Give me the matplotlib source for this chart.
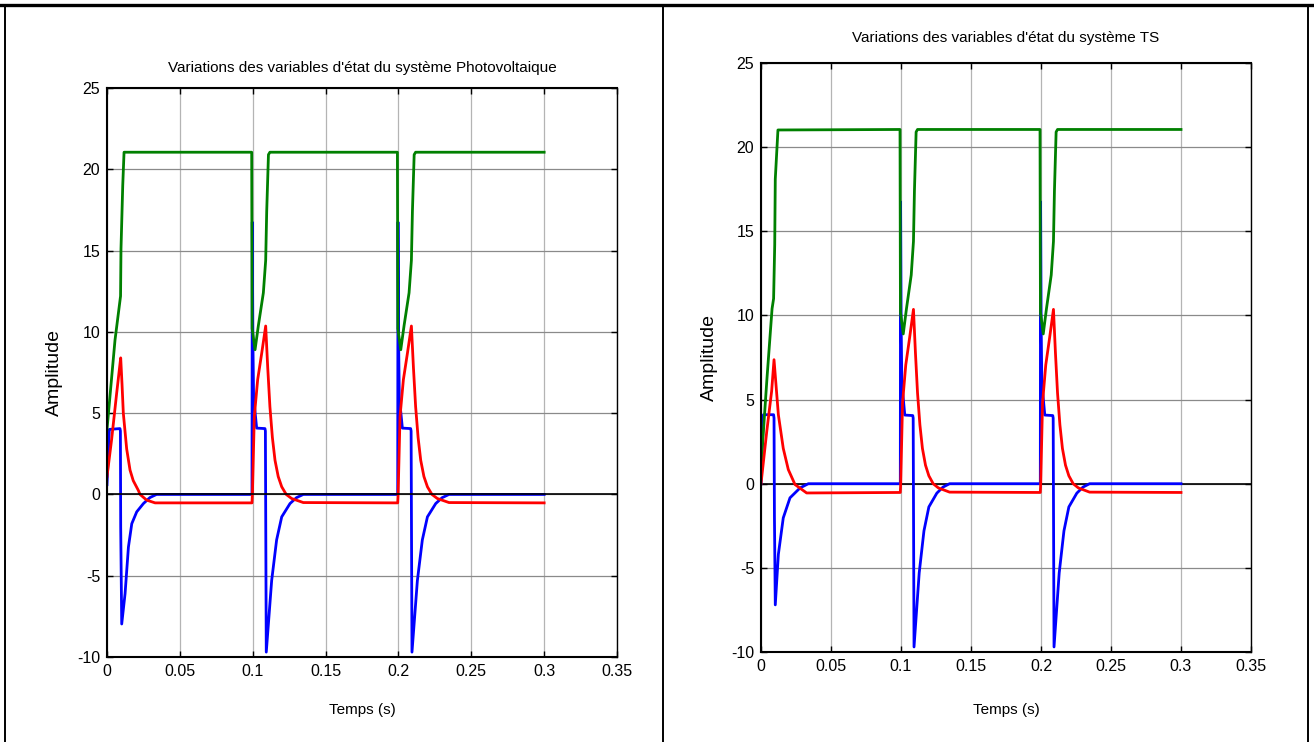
import matplotlib
matplotlib.use('Agg')
import matplotlib.pyplot as plt
from matplotlib.lines import Line2D
from matplotlib.ticker import FuncFormatter

plt.rcParams['font.family'] = ['Liberation Sans', 'DejaVu Sans']

# Left panel : systeme photovoltaique
green_t = [0, 0.0055, 0.0093, 0.0096, 0.0108, 0.0117,
           0.0993, 0.0996, 0.1016, 0.1039, 0.1073, 0.1089, 0.1096, 0.1108, 0.1118,
           0.1993, 0.1996, 0.2016, 0.2039, 0.2073, 0.2089, 0.2096, 0.2108, 0.2118, 0.3]
green_v = [4.0, 9.5, 12.2, 15.1, 19.0, 21.05,
           21.05, 10.2, 8.9, 10.4, 12.4, 14.4, 17.4, 20.9, 21.05,
           21.05, 10.2, 8.9, 10.4, 12.4, 14.4, 17.4, 20.9, 21.05, 21.05]

blue_t = [0, 0.0016, 0.0089, 0.0092, 0.0094, 0.0101, 0.0124, 0.0147, 0.017, 0.0204,
          0.025, 0.0295, 0.034,
          0.0995, 0.0997, 0.1001, 0.1006, 0.1027, 0.1084, 0.1087, 0.1090, 0.1093,
          0.113, 0.1164, 0.1199, 0.1256, 0.130, 0.1347,
          0.1995, 0.1997, 0.2001, 0.2006, 0.2027, 0.2084, 0.2087, 0.2090, 0.2093,
          0.213, 0.2164, 0.2199, 0.2256, 0.230, 0.2347, 0.3]
blue_v = [0.6, 4.0, 4.05, 3.9, -2.0, -7.97, -6.1, -3.24, -1.8, -1.07,
          -0.56, -0.19, 0.0,
          0.0, 16.75, 9.5, 6.0, 4.08, 4.05, 3.9, -3.0, -9.7,
          -5.3, -2.8, -1.38, -0.56, -0.2, 0.0,
          0.0, 16.75, 9.5, 6.0, 4.08, 4.05, 3.9, -3.0, -9.7,
          -5.3, -2.8, -1.38, -0.56, -0.2, 0.0, 0.0]

red_t = [0, 0.0032, 0.0066, 0.0085, 0.0094, 0.0103, 0.0112, 0.0135, 0.0158, 0.018,
         0.0215, 0.0227, 0.0272, 0.033,
         0.0995, 0.0998, 0.1011, 0.1034, 0.1062, 0.1089, 0.1103, 0.1118, 0.1135,
         0.1153, 0.1175, 0.1199, 0.123, 0.1267, 0.1347,
         0.1995, 0.1998, 0.2011, 0.2034, 0.2062, 0.2089, 0.2103, 0.2118, 0.2135,
         0.2153, 0.2175, 0.2199, 0.223, 0.2267, 0.2347, 0.3]
red_v = [1.1, 3.4, 6.2, 7.7, 8.4, 6.8, 5.0, 2.8, 1.5, 0.85,
         0.25, 0.0, -0.35, -0.52,
         -0.52, 0.06, 4.8, 7.06, 8.7, 10.36, 7.8, 5.4, 3.5,
         2.1, 1.1, 0.47, 0.0, -0.25, -0.5,
         -0.52, 0.06, 4.8, 7.06, 8.7, 10.36, 7.8, 5.4, 3.5,
         2.1, 1.1, 0.47, 0.0, -0.25, -0.5, -0.52]

# Right panel : systeme TS (first transient, later ones identical to the left panel)
green_ts_t = [0, 0.0043, 0.0079, 0.009, 0.0098, 0.0102, 0.0121]
green_ts_v = [1.0, 6.3, 10.4, 11.0, 14.2, 18.1, 21.02]
blue_ts_t = [0, 0.0017, 0.009, 0.0093, 0.0096, 0.0102, 0.0124, 0.0159, 0.0207, 0.0279, 0.0338]
blue_ts_v = [0.0, 4.1, 4.1, 3.9, -2.0, -7.2, -4.2, -2.03, -0.84, -0.25, 0.0]
red_ts_t = [0, 0.0041, 0.0076, 0.0093, 0.0124, 0.0159, 0.0195, 0.0243, 0.0326]
red_ts_v = [0.0, 3.1, 5.5, 7.37, 4.1, 2.1, 0.84, -0.05, -0.55]

titles = ["Variations des variables d'état du système Photovoltaique",
          "Variations des variables d'état du système TS"]
xticks = [0, 0.05, 0.1, 0.15, 0.2, 0.25, 0.3, 0.35]
yticks = [-10, -5, 0, 5, 10, 15, 20, 25]


def tail(t, v, start=0.05):
    pts = [(a, b) for a, b in zip(t, v) if a > start]
    return [p[0] for p in pts], [p[1] for p in pts]


W, H = 1314, 742
fig = plt.figure(figsize=(W / 100, H / 100), dpi=100)

# table cell borders
fig.add_artist(Line2D([0, 1], [1 - 5 / H, 1 - 5 / H], color='black', lw=2.4))
for xb in (5, 663, 1308):
    fig.add_artist(Line2D([xb / W, xb / W], [0, 1 - 5 / H], color='black', lw=1.4))

boxes = [(107, 617, 88, 657), (761, 1251, 63, 652)]
title_px = [68, 38]
xlabel_px = [703, 703]
ylabel_px = [63, 718]

series = []
series.append((green_t, green_v, blue_t, blue_v, red_t, red_v))
gt, gv = tail(green_t, green_v)
bt, bv = tail(blue_t, blue_v)
rt, rv = tail(red_t, red_v)
series.append((green_ts_t + gt, green_ts_v + gv, blue_ts_t + bt, blue_ts_v + bv,
               red_ts_t + rt, red_ts_v + rv))

fmt = FuncFormatter(lambda x, p: ('%g' % x))

for i, (l, r, t, b) in enumerate(boxes):
    ax = fig.add_axes([l / W, 1 - b / H, (r - l) / W, (b - t) / H])
    g_t, g_v, b_t, b_v, r_t, r_v = series[i]
    ax.axhline(0, color='black', lw=1.2, zorder=3 if i == 0 else 1.5)
    ax.plot(b_t, b_v, color='#0000ff', lw=2.0, zorder=2)
    ax.plot(g_t, g_v, color='#008000', lw=2.0, zorder=2.1)
    ax.plot(r_t, r_v, color='#ff0000', lw=2.0, zorder=2.2)

    ax.set_xlim(0, 0.35)
    ax.set_ylim(-10, 25)
    ax.set_xticks(xticks)
    ax.set_yticks(yticks)
    ax.xaxis.set_major_formatter(fmt)
    ax.yaxis.set_major_formatter(fmt)
    ax.tick_params(direction='in', top=True, right=True, length=4, width=1,
                   labelsize=11.5, pad=5)
    ax.xaxis.grid(True, color='#b4b4b4', lw=0.9)
    ax.yaxis.grid(True, color='#8a8a8a', lw=0.9)
    ax.set_axisbelow(True)
    for s in ax.spines.values():
        s.set_linewidth(1.5)
    ax.spines['right'].set_linewidth(1.0)

    h = b - t
    ax.text(0.5, 1 + (t - title_px[i]) / h, titles[i], transform=ax.transAxes,
            ha='center', va='center', fontsize=11)
    ax.set_xlabel('Temps (s)', fontsize=11)
    ax.xaxis.set_label_coords(0.5, (b - xlabel_px[i]) / h)
    ax.set_ylabel('Amplitude', fontsize=14)
    ax.yaxis.set_label_coords((ylabel_px[i] - l) / (r - l), 0.5)

fig.savefig('out.png', dpi=100)
